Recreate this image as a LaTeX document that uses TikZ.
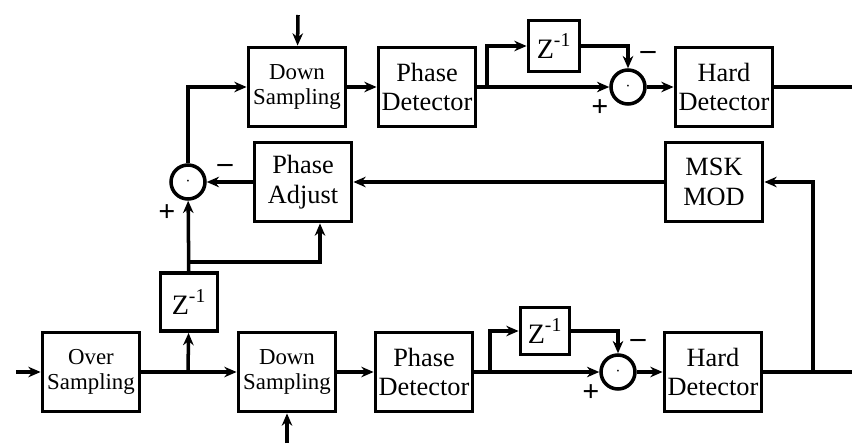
\documentclass[tikz,border=0pt]{standalone}
\usepackage{fontspec}
\setmainfont{Liberation Serif}
\usetikzlibrary{shapes,arrows.meta,positioning}

\tikzset{
  blk/.style={draw, line width=2.2pt, align=center, inner sep=1pt, minimum width=1.94cm, minimum height=1.58cm, font=\fontsize{15}{17}\selectfont},
  sampblk/.style={blk, font=\fontsize{13}{14}\selectfont},
  zblk/.style={draw, line width=2.2pt, inner sep=0pt, font=\fontsize{16}{16}\selectfont},
  sumc/.style={draw, circle, line width=2pt, minimum size=0.68cm, inner sep=0pt, font=\normalsize},
  sgn/.style={inner sep=0pt, font=\fontsize{17}{17}\selectfont\bfseries},
  wire/.style={line width=2pt},
  arr/.style={wire, -{Stealth[length=7pt,width=6pt]}},
}

\begin{document}
\begin{tikzpicture}[x=0.02cm, y=-0.02cm]
                \useasboundingbox (0,0) rectangle (852,443);
                % upper branch
                \node[sampblk] (dsT) at (297, 87) {Down\\Sampling};
                \node[blk] (pdT) at (427, 87) {Phase\\Detector};
                \node[zblk, minimum width=1.02cm, minimum height=1.02cm] (zT) at (554, 46) {Z\textsuperscript{-1}};
                \node[sumc] (sumT) at (628, 87) {$\cdot$};
                \node[blk] (hdT) at (724, 87) {Hard\\Detector};
                \node[sgn] (mT) at (648, 55) {--};
                \node[sgn] (pT) at (600, 108) {+};
                % feedback
                \node[blk] (msk) at (714, 182) {MSK\\MOD};
                \node[blk] (pa) at (303, 182) {Phase\\Adjust};
                \node[sumc] (sumM) at (188, 182) {$\cdot$};
                \node[sgn] (mM) at (225, 168) {--};
                \node[sgn] (pM) at (167, 213) {+};
                \node[zblk, minimum width=1.14cm, minimum height=1.16cm] (zM) at (189, 302) {Z\textsuperscript{-1}};
                % lower branch
                \node[sampblk] (os) at (91, 372) {Over\\Sampling};
                \node[sampblk] (dsB) at (287, 372) {Down\\Sampling};
                \node[blk] (pdB) at (424, 372) {Phase\\Detector};
                \node[zblk, minimum width=0.98cm, minimum height=0.94cm] (zB) at (545, 331) {Z\textsuperscript{-1}};
                \node[sumc] (sumB) at (618, 372) {$\cdot$};
                \node[blk] (hdB) at (713, 372) {Hard\\Detector};
                \node[sgn] (mB) at (638, 343) {--};
                \node[sgn] (pB) at (591, 393) {+};

                \coordinate (inT) at (298, 15);
                \coordinate (inB) at (287, 443);
                \coordinate (inL) at (16, 372);
                \coordinate (outT) at (852, 87);
                \coordinate (outB) at (852, 372);
                \coordinate (tapB) at (813, 372);
                \coordinate (brT) at (487, 87);
                \coordinate (brB) at (490, 372);
                \coordinate (brZ) at (188, 262);
                \coordinate (brO) at (188, 372);

                \draw[arr] (inT) -- (dsT);
                \draw[arr] (dsT) -- (pdT);
                \draw[arr] (pdT) -- (sumT);
                \draw[arr] (brT) |- (zT);
                \draw[arr] (zT) -| (sumT);
                \draw[arr] (sumT) -- (hdT);
                \draw[wire] (hdT) -- (outT);

                \draw[arr] (inL) -- (os);
                \draw[arr] (os) -- (dsB);
                \draw[arr] (brO) -- (zM);
                \draw[arr] (inB) -- (dsB);
                \draw[arr] (dsB) -- (pdB);
                \draw[arr] (pdB) -- (sumB);
                \draw[arr] (brB) |- (zB);
                \draw[arr] (zB) -| (sumB);
                \draw[arr] (sumB) -- (hdB);
                \draw[wire] (hdB) -- (outB);

                \draw[arr] (tapB) |- (msk);
                \draw[arr] (msk) -- (pa);
                \draw[arr] (pa) -- (sumM);
                \draw[arr] (zM) -- (sumM);
                \draw[arr] (brZ) -| (pa.south -| 320, 0);
                \draw[arr] (sumM) |- (dsT);
            \end{tikzpicture}
\end{document}
